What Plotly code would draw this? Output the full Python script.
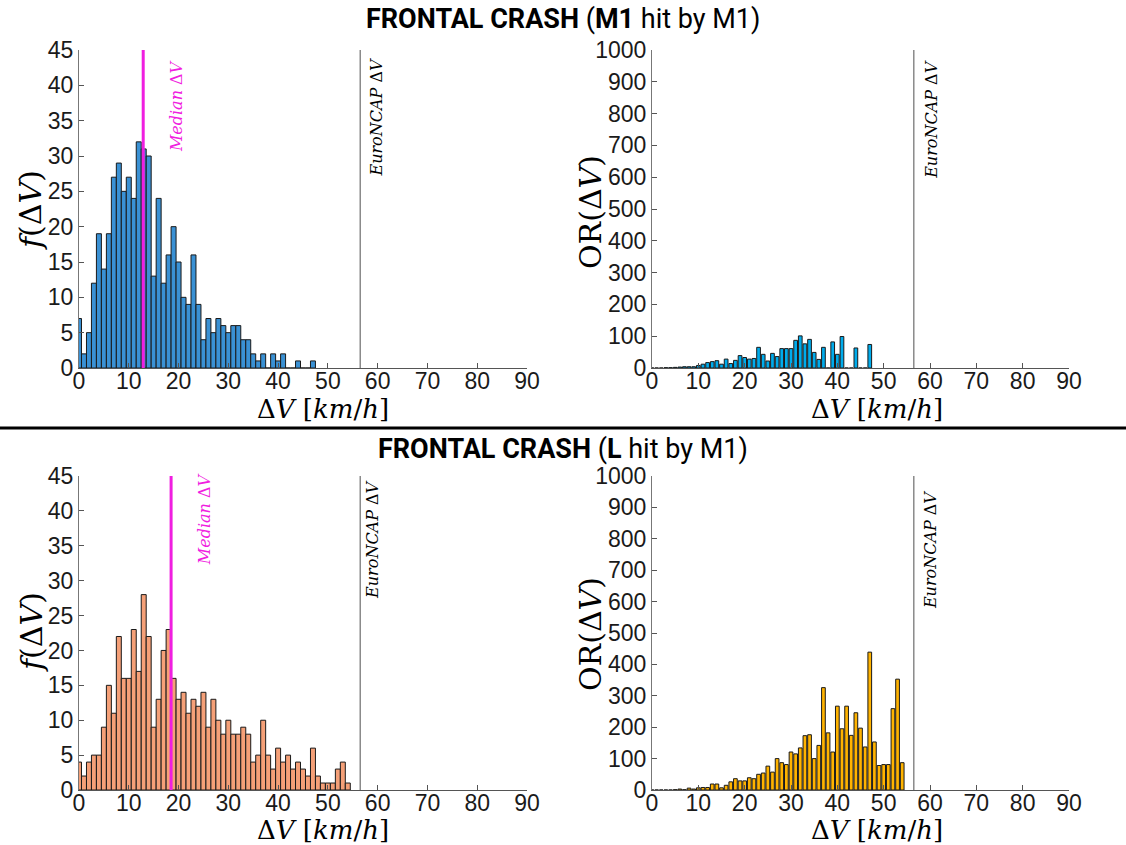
import plotly.graph_objects as go

# ---------------- data ----------------
# histogram counts per 1 km/h bin, bin centres 0,1,2,...
tl_counts = [7, 2, 5, 12, 19, 14, 19, 27, 29, 25,
             27, 24, 32, 31, 30, 13, 24, 12, 16, 20,
             15, 10, 9, 16, 9, 4, 7, 5, 7, 6,
             5, 6, 6, 4, 4, 2, 1, 2, 0, 2,
             1, 2, 0, 0, 1, 0, 0, 1]
tr_or = [0, 0, 0, 1, 1, 2, 3, 4, 4, 4,
         8, 12, 17, 20, 23, 12, 28, 14, 24, 39,
         33, 28, 30, 65, 43, 22, 46, 36, 61, 61,
         61, 87, 101, 76, 90, 49, 27, 65, 0, 82,
         43, 99, 0, 0, 63, 0, 0, 74]
bl_counts = [4, 2, 4, 5, 5, 9, 15, 11, 22, 16,
             16, 23, 17, 28, 22, 9, 13, 20, 23, 16,
             13, 14, 11, 13, 12, 14, 9, 13, 10, 8,
             10, 8, 8, 9, 8, 4, 5, 10, 5, 3,
             6, 4, 5, 3, 4, 3, 2, 6, 2, 1,
             1, 1, 3, 4, 1]
br_or = [0, 0, 0, 0, 0, 1, 3, 1, 6, 3,
         7, 8, 8, 19, 19, 7, 15, 26, 36, 29,
         29, 39, 36, 50, 54, 76, 57, 100, 87, 81,
         121, 115, 134, 173, 176, 100, 142, 326, 182, 121,
         267, 195, 267, 174, 246, 197, 137, 439, 153, 78,
         81, 81, 259, 353, 87]

median_top = 12.9
median_bottom = 18.5
euroncap_dv = 56.5

x_ticks = [0, 10, 20, 30, 40, 50, 60, 70, 80, 90]
f_ticks = [0, 5, 10, 15, 20, 25, 30, 35, 40, 45]
or_ticks = [0, 100, 200, 300, 400, 500, 600, 700, 800, 900, 1000]

title_top = "<b>FRONTAL CRASH</b> (<b>M1</b> hit by M1)"
title_bottom = "<b>FRONTAL CRASH</b> (<b>L</b> hit by M1)"

# ---------------- figure ----------------
W, H = 1126, 845


def px_x(p):
    return p / W


def px_y(p):
    return 1 - p / H


fig = go.Figure()

panels = [
    ("x", "y", tl_counts, "#3A91D4", 1.0),
    ("x2", "y2", tr_or, "#00ACEC", 0.8),
    ("x3", "y3", bl_counts, "#F5A078", 1.0),
    ("x4", "y4", br_or, "#FFB300", 0.8),
]
for xa, ya, vals, col, w in panels:
    fig.add_trace(go.Bar(
        x=list(range(len(vals))), y=vals, width=w,
        marker=dict(color=col, line=dict(color="#1a1a1a", width=1)),
        xaxis=xa, yaxis=ya, showlegend=False, hoverinfo="x+y"))

tickfont = dict(family="Liberation Sans, Arial", size=23, color="#1a1a1a")
common_x = dict(range=[0, 90], tickvals=x_ticks, ticks="inside", ticklen=5,
                tickcolor="#555", showline=True, linecolor="#555", linewidth=1.2,
                showgrid=False, zeroline=False, tickfont=tickfont, fixedrange=True,
                ticklabelstandoff=-8, automargin=False)
common_y = dict(ticks="inside", ticklen=5, tickcolor="#555", showline=True,
                linecolor="#777", linewidth=1.2, showgrid=False, zeroline=False,
                tickfont=tickfont, fixedrange=True, automargin=False)

dx_left = [px_x(79), px_x(527)]
dx_right = [px_x(652), px_x(1069)]
dy_top = [px_y(368), px_y(50)]
dy_bot = [px_y(790), px_y(476)]

fig.update_layout(
    width=W, height=H, margin=dict(l=0, r=0, t=0, b=0, pad=0, autoexpand=False),
    plot_bgcolor="white", paper_bgcolor="white", barmode="overlay",
    xaxis=dict(domain=dx_left, anchor="y", **common_x),
    xaxis2=dict(domain=dx_right, anchor="y2", **common_x),
    xaxis3=dict(domain=dx_left, anchor="y3", **common_x),
    xaxis4=dict(domain=dx_right, anchor="y4", **common_x),
    yaxis=dict(domain=dy_top, anchor="x", range=[0, 45], tickvals=f_ticks, **common_y),
    yaxis2=dict(domain=dy_top, anchor="x2", range=[0, 1000], tickvals=or_ticks, **common_y),
    yaxis3=dict(domain=dy_bot, anchor="x3", range=[0, 45], tickvals=f_ticks, **common_y),
    yaxis4=dict(domain=dy_bot, anchor="x4", range=[0, 1000], tickvals=or_ticks, **common_y),
)

shapes = []
# EuroNCAP lines
for xa, ya in [("x", "y"), ("x2", "y2"), ("x3", "y3"), ("x4", "y4")]:
    shapes.append(dict(type="line", xref=xa, yref=ya + " domain", x0=euroncap_dv,
                       x1=euroncap_dv, y0=0, y1=1, line=dict(color="#8a8a8a", width=1.5)))
# median lines
shapes.append(dict(type="line", xref="x", yref="y domain", x0=median_top, x1=median_top,
                   y0=0, y1=1, line=dict(color="#F01EE0", width=3)))
shapes.append(dict(type="line", xref="x3", yref="y3 domain", x0=median_bottom,
                   x1=median_bottom, y0=0, y1=1, line=dict(color="#F01EE0", width=3)))
# divider
shapes.append(dict(type="line", xref="paper", yref="paper", x0=0, x1=1,
                   y0=px_y(428), y1=px_y(428), line=dict(color="black", width=3)))
fig.update_layout(shapes=shapes)

serif = "DejaVu Serif, Liberation Serif"
C = dict(xanchor="center", yanchor="middle", showarrow=False)
ann = []
# titles
tfont = dict(family="Roboto, Liberation Sans", size=27, color="black")
ann.append(dict(text=title_top, xref="paper", yref="paper", x=px_x(563), y=px_y(19),
                font=tfont, **C))
ann.append(dict(text=title_bottom, xref="paper", yref="paper", x=px_x(563), y=px_y(449),
                font=tfont, **C))
# axis titles
xt = "Δ<i>V</i> [<i>km</i>/<i>h</i>]"
for cx, cy in [(323, 409), (877, 409), (323, 830), (877, 830)]:
    ann.append(dict(text=xt, xref="paper", yref="paper", x=px_x(cx), y=px_y(cy),
                    font=dict(family=serif, size=26, color="black"), **C))
for cx, cy, t in [(31, 210, "<i>f</i>(Δ<i>V</i>)"), (590, 212, "OR(Δ<i>V</i>)"),
                  (31, 632, "<i>f</i>(Δ<i>V</i>)"), (590, 634, "OR(Δ<i>V</i>)")]:
    ann.append(dict(text=t, xref="paper", yref="paper", x=px_x(cx), y=px_y(cy),
                    textangle=-90, font=dict(family=serif, size=30, color="black"), **C))
# in-plot labels
lfont_m = dict(family=serif, size=16, color="#F01EE0")
lfont_e = dict(family=serif, size=16, color="black")
ann.append(dict(text="<i>Median</i> Δ<i>V</i>", xref="x", yref="y", x=19.6, y=37.0,
                textangle=-90, font=lfont_m, **C))
ann.append(dict(text="<i>Median</i> Δ<i>V</i>", xref="x3", yref="y3", x=25.1, y=38.8,
                textangle=-90, font=lfont_m, **C))
for xa, ya, xx, yy in [("x", "y", 59.8, 35.4), ("x2", "y2", 60.4, 780),
                       ("x3", "y3", 59.0, 35.8), ("x4", "y4", 60.0, 764)]:
    ann.append(dict(text="<i>EuroNCAP</i> Δ<i>V</i>", xref=xa, yref=ya, x=xx, y=yy,
                    textangle=-90, font=lfont_e, **C))
fig.update_layout(annotations=ann)

fig.write_html("out.html")
